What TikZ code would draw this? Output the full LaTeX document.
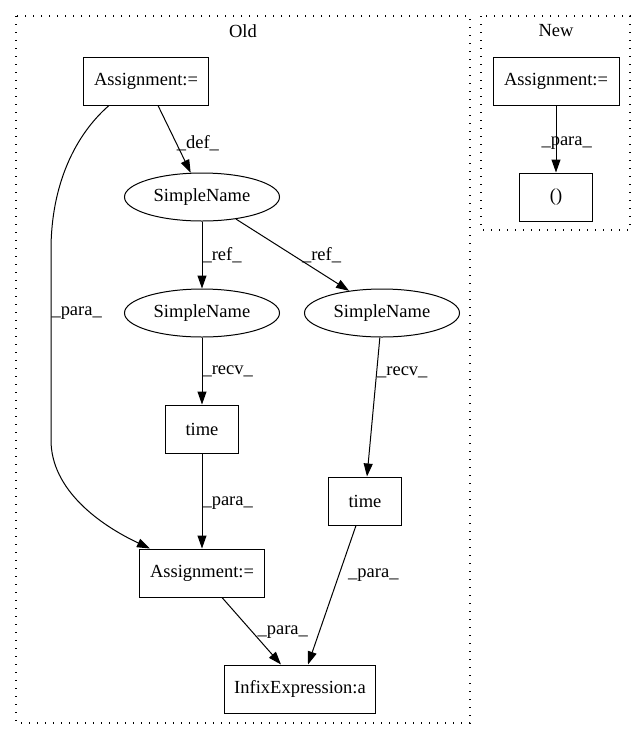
\documentclass[tikz,border=0pt]{standalone}
\usepackage{fontspec}
\setmainfont{Liberation Serif}
\usetikzlibrary{arrows.meta, shapes.geometric}

\begin{document}
\begin{tikzpicture}[
    x=1pt, y=-1pt,
    font=\fontsize{18.5}{22}\selectfont,
    line width=1pt,
    every node/.style={inner sep=1pt},
    opbox/.style={draw, rectangle, minimum height=48pt, inner sep=0pt},
    namenode/.style={draw, ellipse, minimum width=155pt, minimum height=48pt, inner sep=0pt},
    edgelbl/.style={anchor=west, inner sep=0pt},
    flow/.style={-{Triangle[length=13pt,width=9pt]}},
    cluster/.style={line width=1.2pt, dash pattern=on 1.2pt off 6.8pt},
  ]
  \useasboundingbox (0,0) rectangle (641,740);

  % Clusters
  \draw[cluster] (16,16) rectangle (470,723);
  \draw[cluster] (481,16) rectangle (630,230);
  \node (oldlbl) at (243,31) {Old};
  \node (newlbl) at (556,31) {New};

  % Old graph
  \node[opbox, minimum width=125pt] (asgtop) at (146,81) {Assignment:=};
  \node[namenode] (sntop) at (202,197) {SimpleName};
  \node[namenode] (snleft) at (202,313) {SimpleName};
  \node[namenode] (snright) at (382,313) {SimpleName};
  \node[opbox, minimum width=73pt] (timeleft) at (202,429) {time};
  \node[opbox, minimum width=73pt] (timeright) at (365,501) {time};
  \node[opbox, minimum width=125pt] (asgbot) at (202,573) {Assignment:=};
  \node[opbox, minimum width=151pt] (infix) at (300,689) {InfixExpression:a};

  \draw[flow] ([xshift=12pt]asgtop.south) -- node[edgelbl, pos=0.56] {\_def\_} (sntop.115);
  \draw[flow] ([xshift=-37pt]asgtop.south) .. controls (75,135) and (51,185) .. (51,250)
    -- node[edgelbl, pos=0.33] {\_para\_} (51,440)
    .. controls (51,490) and (100,525) .. ([xshift=-52pt]asgbot.north);
  \draw[flow] (sntop.south) -- node[edgelbl, pos=0.5] {\_ref\_} (snleft.north);
  \draw[flow] (sntop.-33) -- node[edgelbl, pos=0.5, xshift=9pt] {\_ref\_} (snright.146);
  \draw[flow] (snleft.south) -- node[edgelbl, pos=0.51] {\_recv\_} (timeleft.north);
  \draw[flow] (snright.-95) -- node[edgelbl, pos=0.25] {\_recv\_} ([xshift=2pt]timeright.north);
  \draw[flow] (timeleft.south) -- node[edgelbl, pos=0.52] {\_para\_} (asgbot.north);
  \draw[flow] ([xshift=-9pt]timeright.south) -- node[edgelbl, pos=0.36, xshift=9pt] {\_para\_} ([xshift=8pt]infix.north);
  \draw[flow] ([xshift=20pt]asgbot.south) -- node[edgelbl, pos=0.51, xshift=5pt] {\_para\_} ([xshift=-19pt]infix.north);

  % New graph
  \node[opbox, minimum width=126pt] (asgnew) at (556,81) {Assignment:=};
  \node[opbox, minimum width=73pt] (parens) at (556,197) {()};
  \draw[flow] (asgnew.south) -- node[edgelbl, pos=0.56, xshift=-15pt] {\_para\_} (parens.north);
\end{tikzpicture}
\end{document}
